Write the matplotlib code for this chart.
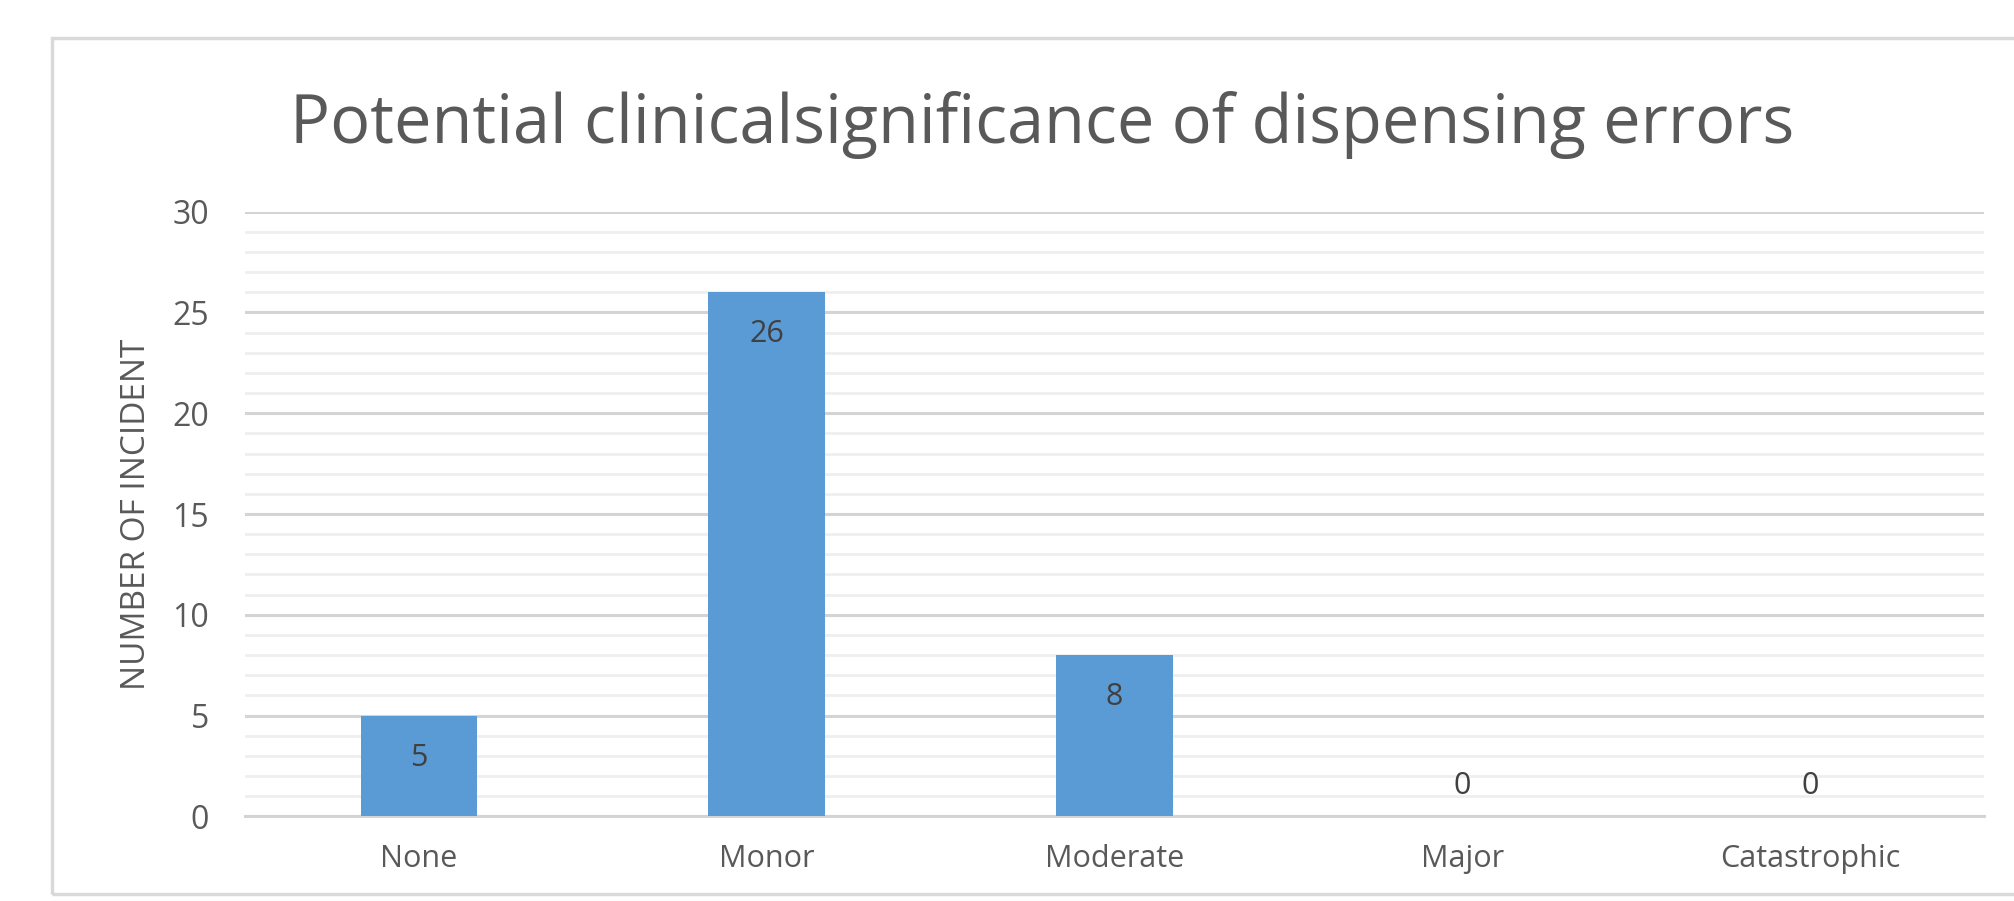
import matplotlib
matplotlib.use("Agg")
import matplotlib.pyplot as plt
from matplotlib.patches import Rectangle
from matplotlib.ticker import MultipleLocator

plt.rcParams["font.family"] = ["Open Sans", "DejaVu Sans"]

# ---- data ----
categories = ["None", "Monor", "Moderate", "Major", "Catastrophic"]
incidents = [5, 26, 8, 0, 0]

title = "Potential clinicalsignificance of dispensing errors"
y_label = "NUMBER OF INCIDENT"
y_ticks = [0, 5, 10, 15, 20, 25, 30]

text_grey = "#595959"
bar_blue = "#5B9BD5"

fig = plt.figure(figsize=(20.15, 9.01), dpi=100)

# chart border (light grey frame)
fig.patches.append(Rectangle((52 / 2015, 0.008), 1.0, 0.95, transform=fig.transFigure,
                             fill=False, edgecolor="#D9D9D9", linewidth=2.5))

ax = fig.add_axes([0.1216, 0.094, 0.8630, 0.671])
x = list(range(len(categories)))
bars = ax.bar(x, incidents, width=0.335, color=bar_blue, zorder=3)

ax.set_xlim(-0.5, len(categories) - 0.5)
ax.set_ylim(0, 30)
ax.set_yticks(y_ticks)
ax.yaxis.set_minor_locator(MultipleLocator(1))
ax.grid(True, which="major", axis="y", color="#D4D4D4", linewidth=2.2, zorder=0)
ax.grid(True, which="minor", axis="y", color="#EFEFEF", linewidth=2.0, zorder=0)
ax.set_axisbelow(True)

for s in ["top", "right", "left"]:
    ax.spines[s].set_visible(False)
ax.spines["bottom"].set_color("#D4D4D4")
ax.spines["bottom"].set_linewidth(2.2)

ax.set_xticks(x)
ax.set_xticklabels(categories)
ax.tick_params(axis="x", length=0, pad=20, labelsize=22, labelcolor=text_grey)
ax.tick_params(axis="y", which="both", length=0, pad=26, labelsize=23, labelcolor=text_grey)

ax.set_ylabel(y_label, fontsize=24, color=text_grey, labelpad=14)

# data labels (inside end; zero bars get the label just above the axis)
for rect, val in zip(bars, incidents):
    cx = rect.get_x() + rect.get_width() / 2
    offset = -42 if val > 0 else 30
    ax.annotate(str(val), (cx, val), xytext=(0, offset), textcoords="offset pixels",
                ha="center", va="center", fontsize=22, color="#404040", zorder=4)

fig.text(0.517, 0.861, title, ha="center", va="center", fontsize=48, color=text_grey)

fig.savefig("out.png", dpi=100)
